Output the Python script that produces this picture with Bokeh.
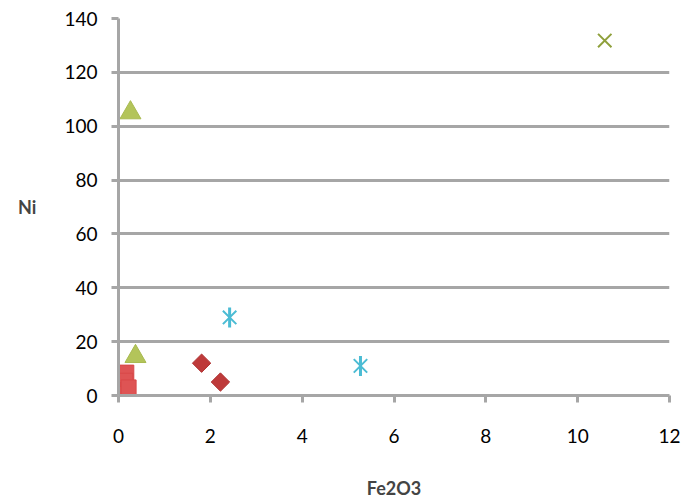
from bokeh.plotting import figure
from bokeh.models import Range1d, Label, FixedTicker
from bokeh.embed import file_html
from bokeh.resources import INLINE
import math

# Data series (Fe2O3 vs Ni)
diamond_x = [1.81, 2.22]
diamond_y = [12.0, 5.0]
square_x = [0.17, 0.15, 0.2, 0.18, 0.22]
square_y = [8.5, 5.5, 2.0, 0.5, 3.0]
triangle_x = [0.26, 0.37]
triangle_y = [105.0, 14.5]
cross_x = [10.59]
cross_y = [131.8]
star_x = [2.42, 5.27]
star_y = [29.0, 11.0]

x_ticks = [0, 2, 4, 6, 8, 10, 12]
y_ticks = [0, 20, 40, 60, 80, 100, 120, 140]

FONT = "Lato"
GRID = "#A6A6A6"

p = figure(frame_width=551, frame_height=377, output_backend="svg", toolbar_location=None,
           x_range=Range1d(0, 12), y_range=Range1d(0, 140),
           min_border_left=118, min_border_top=18, min_border_right=21, min_border_bottom=60)
p.outline_line_color = None
p.background_fill_color = "white"
p.border_fill_color = "white"

p.xgrid.grid_line_color = None
p.ygrid.grid_line_color = GRID
p.ygrid.grid_line_width = 3
p.ygrid.ticker = FixedTicker(ticks=y_ticks)

p.xaxis.ticker = FixedTicker(ticks=x_ticks)
p.yaxis.ticker = FixedTicker(ticks=y_ticks)
for ax in (p.xaxis, p.yaxis):
    ax.axis_line_color = GRID
    ax.axis_line_width = 3
    ax.major_tick_line_color = GRID
    ax.major_tick_line_width = 3
    ax.major_tick_out = 7
    ax.major_tick_in = 0
    ax.minor_tick_line_color = None
    ax.major_label_text_font = FONT
    ax.major_label_text_font_size = "19px"
    ax.major_label_text_color = "#000000"

p.xaxis.major_label_standoff = 26
p.yaxis.major_label_standoff = 14
p.xaxis.axis_label = "Fe2O3"
p.xaxis.axis_label_text_font = FONT
p.xaxis.axis_label_text_font_style = "bold"
p.xaxis.axis_label_text_font_size = "18px"
p.xaxis.axis_label_standoff = 31

ni_done = False
try:
    p.yaxis.axis_label = "Ni"
    p.yaxis.axis_label_orientation = "horizontal"
    p.yaxis.axis_label_text_font = FONT
    p.yaxis.axis_label_text_font_style = "bold"
    p.yaxis.axis_label_text_font_size = "18px"
    p.yaxis.axis_label_standoff = 25
    ni_done = True
except Exception:
    p.yaxis.axis_label = None
if not ni_done:
    p.add_layout(Label(x=25, y=500 - 210, x_units="screen", y_units="screen", text="Ni",
                       text_font=FONT, text_font_style="bold", text_font_size="18px",
                       text_align="center", text_baseline="middle"))

p.scatter(square_x, square_y, marker="square", size=15, fill_color="#DE5454", line_color="#D84848")
p.scatter(diamond_x, diamond_y, marker="square", angle=math.pi / 4, size=13,
          fill_color="#BE3A3A", line_color="#B03434")
p.scatter(triangle_x, triangle_y, marker="triangle", size=21, fill_color="#B3C45A", line_color="#A8BA50")
p.scatter(cross_x, cross_y, marker="x", size=19, line_color="#8FA03C", line_width=2)
# Excel-style star: an X crossed by a vertical stroke
p.scatter(star_x, star_y, marker="x", size=19, line_color="#4BBCD4", line_width=2)
p.scatter(star_x, star_y, marker="dash", angle=math.pi / 2, size=20, line_color="#4BBCD4", line_width=3)

open("out.html", "w").write(file_html(p, INLINE))
